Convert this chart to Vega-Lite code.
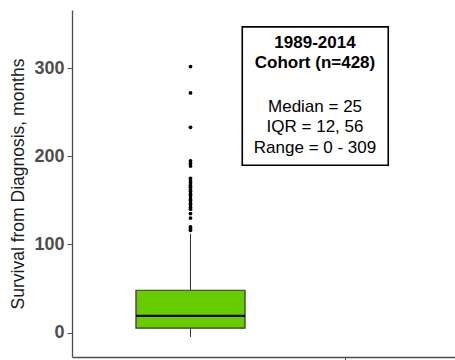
{
  "$schema": "https://vega.github.io/schema/vega-lite/v6.json",
  "width": 383,
  "height": 347,
  "autosize": "none",
  "padding": {"left": 72, "top": 10, "right": 0, "bottom": 3},
  "background": "white",
  "config": {
    "view": {"stroke": null},
    "font": "Liberation Sans"
  },
  "datasets": {
    "box": [{"group": 1, "left": 0.647, "right": 1.353, "lower": -5, "q1": 5, "median": 19, "q3": 48, "upper": 112}],
    "outliers": [
      {"group": 1, "value": 302}, {"group": 1, "value": 272}, {"group": 1, "value": 233},
      {"group": 1, "value": 195}, {"group": 1, "value": 192}, {"group": 1, "value": 189},
      {"group": 1, "value": 175}, {"group": 1, "value": 172}, {"group": 1, "value": 170},
      {"group": 1, "value": 167}, {"group": 1, "value": 165}, {"group": 1, "value": 162},
      {"group": 1, "value": 160}, {"group": 1, "value": 157}, {"group": 1, "value": 155},
      {"group": 1, "value": 152}, {"group": 1, "value": 150}, {"group": 1, "value": 147},
      {"group": 1, "value": 145}, {"group": 1, "value": 142}, {"group": 1, "value": 140},
      {"group": 1, "value": 135}, {"group": 1, "value": 130}, {"group": 1, "value": 120},
      {"group": 1, "value": 118}, {"group": 1, "value": 116}
    ],
    "panel": [{"x1": 1.335, "x2": 2.28, "y1": 190, "y2": 347}],
    "notes": [
      {"x": 1.806, "y": 329, "label": "1989-2014", "bold": true},
      {"x": 1.806, "y": 305.5, "label": "Cohort (n=428)", "bold": true},
      {"x": 1.806, "y": 256, "label": "Median = 25", "bold": false},
      {"x": 1.806, "y": 233, "label": "IQR = 12, 56", "bold": false},
      {"x": 1.806, "y": 209.5, "label": "Range = 0 - 309", "bold": false}
    ]
  },
  "layer": [
    {
      "data": {"name": "box"},
      "mark": {"type": "rule", "color": "#333333", "strokeWidth": 1},
      "encoding": {
        "x": {"field": "group", "type": "quantitative",
          "scale": {"domain": [0.233, 2.712], "nice": false, "zero": false},
          "axis": {"values": [2], "labels": false, "title": null, "grid": false,
            "domainColor": "#4d4d4d", "domainWidth": 1.3, "tickColor": "#4d4d4d", "tickSize": 5, "tickWidth": 1}},
        "y": {"field": "lower", "type": "quantitative",
          "scale": {"domain": [-27.8, 366.2], "nice": false, "zero": false},
          "axis": {"values": [0, 100, 200, 300], "title": "Survival from Diagnosis, months", "grid": false,
            "labelFont": "Liberation Sans", "labelFontSize": 18, "labelFontWeight": "bold", "labelColor": "#4d4d4d",
            "labelPadding": 3,
            "titleFont": "Liberation Sans", "titleFontSize": 17.5, "titleFontWeight": "normal", "titleColor": "#1a1a1a",
            "titlePadding": 6,
            "domainColor": "#4d4d4d", "domainWidth": 1.3, "tickColor": "#4d4d4d", "tickSize": 5, "tickWidth": 1}},
        "y2": {"field": "upper"}
      }
    },
    {
      "data": {"name": "box"},
      "mark": {"type": "rect", "fill": "#66CC00", "stroke": "#333333", "strokeWidth": 1.2},
      "encoding": {
        "x": {"field": "left", "type": "quantitative"},
        "x2": {"field": "right"},
        "y": {"field": "q1", "type": "quantitative"},
        "y2": {"field": "q3"}
      }
    },
    {
      "data": {"name": "box"},
      "mark": {"type": "rule", "color": "#000000", "strokeWidth": 2.2},
      "encoding": {
        "x": {"field": "left", "type": "quantitative"},
        "x2": {"field": "right"},
        "y": {"field": "median", "type": "quantitative"}
      }
    },
    {
      "data": {"name": "outliers"},
      "mark": {"type": "point", "shape": "circle", "filled": true, "color": "#000000", "size": 14, "opacity": 1},
      "encoding": {
        "x": {"field": "group", "type": "quantitative"},
        "y": {"field": "value", "type": "quantitative"}
      }
    },
    {
      "data": {"name": "panel"},
      "mark": {"type": "rect", "fill": "white", "stroke": "#000000", "strokeWidth": 1.6},
      "encoding": {
        "x": {"field": "x1", "type": "quantitative"},
        "x2": {"field": "x2"},
        "y": {"field": "y1", "type": "quantitative"},
        "y2": {"field": "y2"}
      }
    },
    {
      "data": {"name": "notes"},
      "transform": [{"filter": "datum.bold"}],
      "mark": {"type": "text", "font": "Liberation Sans", "fontSize": 17, "fontWeight": "bold", "color": "#000000", "align": "center", "baseline": "middle"},
      "encoding": {
        "x": {"field": "x", "type": "quantitative"},
        "y": {"field": "y", "type": "quantitative"},
        "text": {"field": "label"}
      }
    },
    {
      "data": {"name": "notes"},
      "transform": [{"filter": "!datum.bold"}],
      "mark": {"type": "text", "font": "Liberation Sans", "fontSize": 17, "fontWeight": "normal", "color": "#000000", "align": "center", "baseline": "middle"},
      "encoding": {
        "x": {"field": "x", "type": "quantitative"},
        "y": {"field": "y", "type": "quantitative"},
        "text": {"field": "label"}
      }
    }
  ]
}
